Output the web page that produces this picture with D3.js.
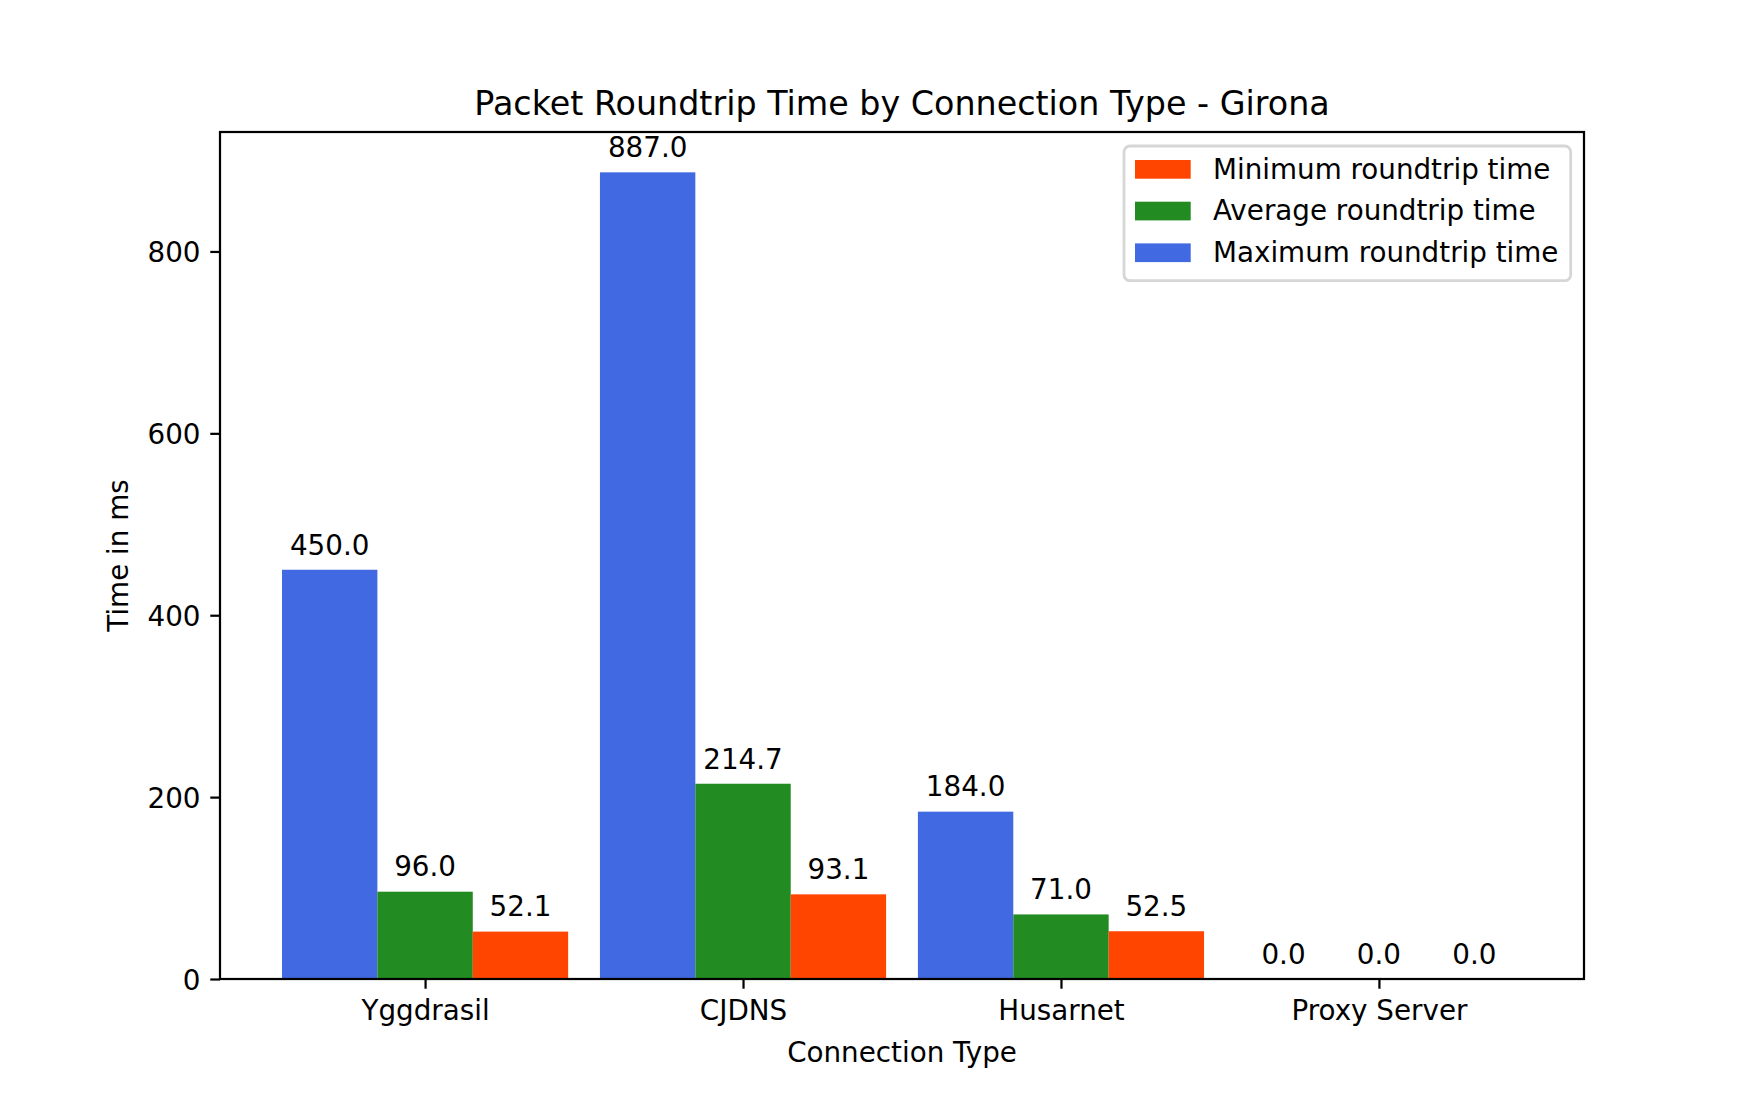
<!DOCTYPE html>
<html>
<head>
<meta charset="utf-8">
<script src="https://cdn.jsdelivr.net/npm/d3@7"></script>
<style>
  body { margin: 0; background: #fff; }
  svg { display: block; font-family: "DejaVu Sans", sans-serif; }
</style>
</head>
<body>
<svg id="chart" width="1760" height="1100"></svg>
<script>
// data
var categories = ['Yggdrasil', 'CJDNS', 'Husarnet', 'Proxy Server'];
var maxTimes = [450.0, 887.0, 184.0, 0.0];
var avgTimes = [96.0, 214.7, 71.0, 0.0];
var minTimes = [52.1, 93.1, 52.5, 0.0];
var yTicks = [0, 200, 400, 600, 800];

var seriesList = [
  {name: 'Maximum roundtrip time', values: maxTimes, color: '#4169e1', offset: -1},
  {name: 'Average roundtrip time', values: avgTimes, color: '#228b22', offset: 0},
  {name: 'Minimum roundtrip time', values: minTimes, color: '#ff4500', offset: 1}
];
// legend order in the picture
var legendOrder = [2, 1, 0];

var barW = 0.3;
var fontSize = 27.78;
var plotLeft = 220, plotRight = 1584, plotTop = 132, plotBottom = 979;

var svg = d3.select('#chart');

var x = d3.scaleLinear().domain([-0.645, 3.645]).range([plotLeft, plotRight]);
var y = d3.scaleLinear().domain([0, 931.35]).range([plotBottom, plotTop]);

// bars
seriesList.forEach(function (s) {
  var g = svg.append('g');
  g.selectAll('rect')
    .data(s.values)
    .enter()
    .append('rect')
      .attr('x', function (d, i) { return x(i + s.offset * barW - barW / 2); })
      .attr('width', x(barW) - x(0))
      .attr('y', function (d) { return y(d); })
      .attr('height', function (d) { return y(0) - y(d); })
      .attr('fill', s.color);

  g.selectAll('text')
    .data(s.values)
    .enter()
    .append('text')
      .attr('x', function (d, i) { return x(i + s.offset * barW); })
      .attr('y', function (d) { return y(d) - 15.2; })
      .attr('text-anchor', 'middle')
      .attr('font-size', fontSize)
      .attr('fill', '#000')
      .text(function (d) { return d.toFixed(1); });
});

// axes
var xAxis = d3.axisBottom(x)
  .tickValues(d3.range(categories.length))
  .tickFormat(function (d) { return categories[d]; })
  .tickSize(9.72)
  .tickPadding(11.2);

var yAxis = d3.axisLeft(y)
  .tickValues(yTicks)
  .tickSize(9.72)
  .tickPadding(9.8);

var gx = svg.append('g').attr('transform', 'translate(0,' + plotBottom + ')').call(xAxis);
var gy = svg.append('g').attr('transform', 'translate(' + plotLeft + ',0)').call(yAxis);

[gx, gy].forEach(function (g) {
  g.select('.domain').remove();
  g.selectAll('line').attr('stroke', '#000').attr('stroke-width', 2.22);
  g.selectAll('text')
    .attr('font-size', fontSize)
    .attr('font-family', '"DejaVu Sans", sans-serif')
    .attr('fill', '#000');
});
gy.selectAll('text').attr('dy', '0.36em');

// spines
svg.append('rect')
  .attr('x', plotLeft)
  .attr('y', plotTop)
  .attr('width', plotRight - plotLeft)
  .attr('height', plotBottom - plotTop)
  .attr('fill', 'none')
  .attr('stroke', '#000')
  .attr('stroke-width', 2.22);

// title and axis labels
svg.append('text')
  .attr('x', (plotLeft + plotRight) / 2)
  .attr('y', 114.5)
  .attr('text-anchor', 'middle')
  .attr('font-size', 33.33)
  .text('Packet Roundtrip Time by Connection Type - Girona');

svg.append('text')
  .attr('x', (plotLeft + plotRight) / 2)
  .attr('y', 1062)
  .attr('text-anchor', 'middle')
  .attr('font-size', fontSize)
  .text('Connection Type');

svg.append('text')
  .attr('transform', 'translate(128,' + (plotTop + plotBottom) / 2 + ') rotate(-90)')
  .attr('text-anchor', 'middle')
  .attr('font-size', fontSize)
  .text('Time in ms');

// legend
var legend = svg.append('g');
legend.append('rect')
  .attr('x', 1124)
  .attr('y', 146)
  .attr('width', 446.7)
  .attr('height', 134.7)
  .attr('rx', 6)
  .attr('fill', '#fff')
  .attr('fill-opacity', 0.8)
  .attr('stroke', '#d6d6d6')
  .attr('stroke-width', 2.8);

var items = legend.selectAll('g.item')
  .data(legendOrder.map(function (k) { return seriesList[k]; }))
  .enter()
  .append('g')
    .attr('class', 'item')
    .attr('transform', function (d, i) { return 'translate(0,' + (i * 41.7) + ')'; });

items.append('rect')
  .attr('x', 1135)
  .attr('y', 160)
  .attr('width', 55.7)
  .attr('height', 18.7)
  .attr('fill', function (d) { return d.color; });

items.append('text')
  .attr('x', 1213)
  .attr('y', 178.7)
  .attr('font-size', fontSize)
  .text(function (d) { return d.name; });
</script>
</body>
</html>
